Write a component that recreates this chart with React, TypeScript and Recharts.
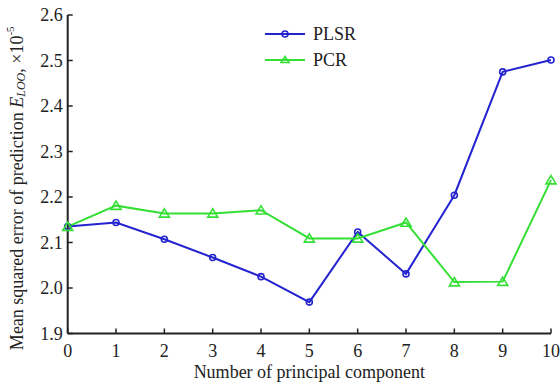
import { LineChart, Line, XAxis, YAxis } from 'recharts';

const components = [0, 1, 2, 3, 4, 5, 6, 7, 8, 9, 10];
const plsr = [2.135, 2.144, 2.107, 2.067, 2.025, 1.969, 2.123, 2.031, 2.204, 2.475, 2.501];
const pcr = [2.135, 2.181, 2.164, 2.164, 2.171, 2.109, 2.109, 2.144, 2.013, 2.014, 2.237];
const yTicks = [1.9, 2.0, 2.1, 2.2, 2.3, 2.4, 2.5, 2.6];

const BLUE = '#2323cf';
const GREEN = '#35df35';
const FONT = '"Liberation Serif", "Times New Roman", serif';

const data = components.map((c, i) => ({ c, plsr: plsr[i], pcr: pcr[i] }));

const CircleDot = (props: any) => {
  const { cx, cy, r = 4.5 } = props;
  if (cx == null || cy == null) return null;
  return <circle cx={cx} cy={cy} r={r} fill="none" stroke={BLUE} strokeWidth={1.6} />;
};

const TriangleDot = (props: any) => {
  const { cx, cy, s = 5 } = props;
  if (cx == null || cy == null) return null;
  const pts = `${cx - s},${cy + s * 0.75} ${cx + s},${cy + s * 0.75} ${cx},${cy - s * 0.9}`;
  return <polygon points={pts} fill="none" stroke={GREEN} strokeWidth={1.6} />;
};

const XTick = (props: any) => {
  const { x, y, payload } = props;
  return (
    <g>
      <line x1={x} y1={y} x2={x} y2={y - 5} stroke="#222" strokeWidth={1.5} />
      <text x={x} y={y + 23} textAnchor="middle" fontSize={18} fontFamily={FONT} fill="#222">
        {payload.value}
      </text>
    </g>
  );
};

const YTick = (props: any) => {
  const { x, y, payload } = props;
  return (
    <g>
      <line x1={x} y1={y} x2={x + 5} y2={y} stroke="#222" strokeWidth={1.5} />
      <text x={x - 5} y={y + 6} textAnchor="end" fontSize={18} fontFamily={FONT} fill="#222">
        {payload.value.toFixed(1)}
      </text>
    </g>
  );
};

const YLabel = (props: any) => {
  const { viewBox } = props;
  const cx = 17;
  const cy = viewBox.y + viewBox.height / 2 + 14;
  return (
    <text
      x={cx}
      y={cy}
      transform={`rotate(-90, ${cx}, ${cy})`}
      textAnchor="middle"
      dominantBaseline="central"
      fontSize={18}
      fontFamily={FONT}
      fill="#222"
    >
      Mean squared error of prediction{' '}
      <tspan fontStyle="italic">E</tspan>
      <tspan fontStyle="italic" fontSize={12} dy={4}>LOO</tspan>
      <tspan dy={-4}>, ×10</tspan>
      <tspan fontSize={11} dy={-7}>-5</tspan>
    </text>
  );
};

const legendItems = [
  { name: 'PLSR', color: BLUE, marker: 'circle' },
  { name: 'PCR', color: GREEN, marker: 'triangle' },
];

const LegendBox = () => (
  <div
    style={{
      position: 'absolute',
      left: 265,
      top: 21,
      fontFamily: FONT,
      fontSize: 18,
      color: '#222',
    }}
  >
    {legendItems.map((item) => (
      <div key={item.name} style={{ display: 'flex', alignItems: 'center', height: 26 }}>
        <svg width={48} height={14}>
          <line x1={0} y1={7} x2={40} y2={7} stroke={item.color} strokeWidth={2} />
          {item.marker === 'circle' ? (
            <circle cx={20} cy={7} r={3} fill="none" stroke={item.color} strokeWidth={1.6} />
          ) : (
            <polygon points="16,9.5 24,9.5 20,3.5" fill="none" stroke={item.color} strokeWidth={1.6} />
          )}
        </svg>
        <span>{item.name}</span>
      </div>
    ))}
  </div>
);

export default function App() {
  return (
    <div style={{ position: 'absolute', left: 0, top: 0, width: 560, height: 385, background: '#fff' }}>
      <LineChart width={560} height={385} data={data} margin={{ top: 15, right: 9, left: 0, bottom: 0 }}>
        <XAxis
          dataKey="c"
          type="number"
          domain={[0, 10]}
          ticks={components}
          tickSize={0}
          tickMargin={0}
          tick={<XTick />}
          height={51.5}
          axisLine={{ stroke: '#222', strokeWidth: 2 }}
          label={{
            value: 'Number of principal component',
            position: 'insideBottom',
            offset: 7,
            style: { fontFamily: FONT, fontSize: 18, fill: '#222' },
          }}
        />
        <YAxis
          type="number"
          domain={[1.9, 2.6]}
          ticks={yTicks}
          tickSize={0}
          tickMargin={0}
          tick={<YTick />}
          width={67.7}
          axisLine={{ stroke: '#222', strokeWidth: 2 }}
          label={<YLabel />}
        />
        <Line
          dataKey="plsr"
          name="PLSR"
          stroke={BLUE}
          strokeWidth={2}
          dot={<CircleDot />}
          isAnimationActive={false}
        />
        <Line
          dataKey="pcr"
          name="PCR"
          stroke={GREEN}
          strokeWidth={2}
          dot={<TriangleDot />}
          isAnimationActive={false}
        />
      </LineChart>
      <LegendBox />
    </div>
  );
}
